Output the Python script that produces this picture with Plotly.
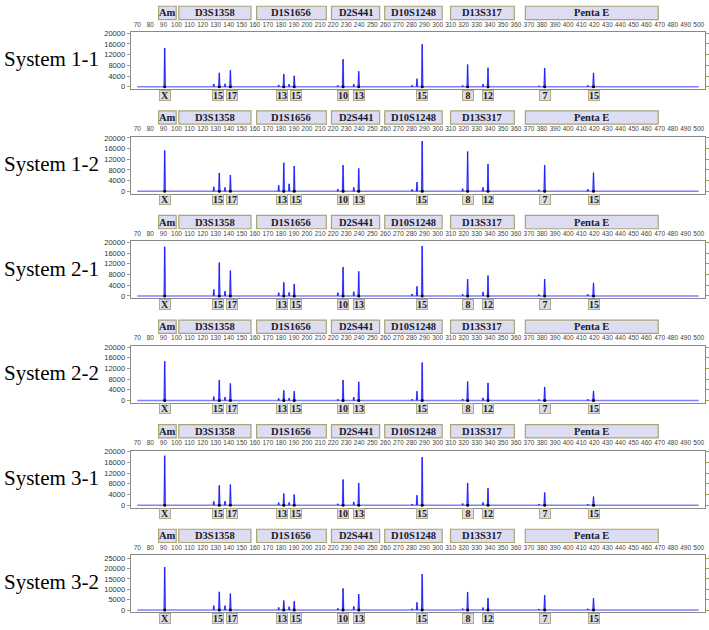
import plotly.graph_objects as go

# ---------------- data ----------------
systems = ["System 1-1", "System 1-2", "System 2-1", "System 2-2", "System 3-1", "System 3-2"]

loci = ["Am", "D3S1358", "D1S1656", "D2S441", "D10S1248", "D13S317", "Penta E"]
locus_start = [86.3, 101.8, 161.4, 218.7, 259.5, 309.9, 367.2]
locus_end = [99.8, 157.1, 214.8, 255.6, 303.5, 358.8, 469.0]

allele_labels = ["X", "15", "17", "13", "15", "10", "13", "15", "8", "12", "7", "15"]
allele_bp = [91.0, 132.8, 141.3, 182.2, 190.2, 227.6, 239.6, 288.2, 323.0, 338.6, 382.0, 419.4]
stutter_bp = [128.6, 137.2, 178.3, 186.3, 223.6, 235.8, 280.5, 284.2, 319.2, 334.8, 377.6, 415.0]

allele_heights = [
    [14500, 5200, 6200, 4800, 4100, 10300, 5800, 15900, 8300, 7100, 7000, 5200],
    [15300, 6900, 6100, 10700, 9500, 9800, 8600, 18800, 14900, 10200, 9800, 7000],
    [18400, 12500, 9500, 5100, 4500, 10800, 9200, 18700, 6300, 7600, 6300, 4900],
    [14700, 7700, 6400, 3800, 3500, 7700, 7000, 14200, 7100, 6600, 5100, 3600],
    [18500, 7400, 7700, 4300, 4000, 9600, 8300, 18000, 8300, 6300, 4700, 3200],
    [20700, 8800, 7900, 4600, 4300, 10400, 7700, 17300, 8700, 5800, 7200, 5800],
]
stutter_heights = [
    [1000, 1100, 700, 1000, 500, 1000, 600, 3000, 500, 1000, 300, 500],
    [1700, 1500, 2300, 2800, 800, 1500, 700, 3500, 1000, 1500, 600, 800],
    [2400, 1800, 1200, 1300, 1200, 1600, 700, 3600, 600, 1500, 500, 600],
    [1500, 1300, 800, 900, 500, 1300, 500, 3500, 600, 1000, 400, 500],
    [1400, 1500, 900, 1000, 500, 1200, 400, 3700, 600, 1000, 400, 400],
    [2100, 2100, 1300, 1600, 800, 1800, 600, 3700, 700, 1200, 500, 600],
]
y_tick_sets = [
    [0, 4000, 8000, 12000, 16000, 20000],
    [0, 4000, 8000, 12000, 16000, 20000],
    [0, 4000, 8000, 12000, 16000, 20000],
    [0, 4000, 8000, 12000, 16000, 20000],
    [0, 4000, 8000, 12000, 16000, 20000],
    [0, 5000, 10000, 15000, 20000, 25000],
]
y_ranges = [[-900, 20400]] * 5 + [[-1000, 26400]]
x_ticks = list(range(70, 510, 10))
x_range = [64.9, 504.8]
scan_range = [70, 500]

# ---------------- layout constants (px) ----------------
W, H = 709, 630
PITCH = 105.6
BOX_L, BOX_R = 131, 707
OLIVE = "#a49e5e"
LINE = "#8a8a8a"


def py(px):
    return 1 - px / H


fig = go.Figure()
shapes = []
annotations = []
layout_axes = {}

px_per_bp = (BOX_R - BOX_L) / (x_range[1] - x_range[0])
HALF = 0.45

for k, name in enumerate(systems):
    off = PITCH * k
    sfx = "" if k == 0 else str(k + 1)
    xa, ya = "x" + sfx, "y" + sfx

    peaks = sorted(
        [(p, h) for p, h in zip(allele_bp, allele_heights[k])]
        + [(p, h) for p, h in zip(stutter_bp, stutter_heights[k])]
    )
    px_, py_ = [], []
    for p, h in peaks:
        px_ += [p - HALF, p, p + HALF, None]
        py_ += [0, h, 0, None]

    # baseline
    fig.add_trace(go.Scatter(x=scan_range, y=[0, 0], mode="lines", xaxis=xa, yaxis=ya,
                             line=dict(color="#7f7fff", width=1.5), hoverinfo="skip",
                             showlegend=False))
    # peaks: light halo + core
    fig.add_trace(go.Scatter(x=px_, y=py_, mode="lines", xaxis=xa, yaxis=ya,
                             line=dict(color="rgba(120,120,255,0.55)", width=1.6),
                             hoverinfo="skip", showlegend=False))
    fig.add_trace(go.Scatter(x=px_, y=py_, mode="lines", xaxis=xa, yaxis=ya,
                             line=dict(color="#1a1aff", width=0.9), hoverinfo="skip",
                             showlegend=False))
    fig.add_trace(go.Scatter(x=allele_bp, y=[0] * len(allele_bp), mode="markers",
                             xaxis=xa, yaxis=ya, cliponaxis=False,
                             marker=dict(color="black", size=3), hoverinfo="skip",
                             showlegend=False))

    box_top, box_bot = 29.5 + off, 87 + off
    layout_axes["xaxis" + sfx] = dict(
        domain=[BOX_L / W, BOX_R / W], anchor=ya, side="top", range=x_range,
        tickmode="array", tickvals=x_ticks, ticktext=[str(t) for t in x_ticks],
        tickangle=0,
        tickfont=dict(size=6.5, color="#444", family="Liberation Sans"),
        ticks="", showline=True, mirror=True, linecolor=LINE, linewidth=1,
        showgrid=False, zeroline=False, fixedrange=True, ticklabelstandoff=2,
    )
    layout_axes["yaxis" + sfx] = dict(
        domain=[py(box_bot), py(box_top)], anchor=xa, range=y_ranges[k],
        tickmode="array", tickvals=y_tick_sets[k],
        ticktext=[str(t) for t in y_tick_sets[k]],
        tickfont=dict(size=7.5, color="#333", family="Liberation Sans"),
        ticks="outside", ticklen=3, tickcolor=OLIVE, tickwidth=1,
        showline=True, mirror="ticks", linecolor=LINE, linewidth=1,
        showgrid=False, zeroline=False, fixedrange=True,
    )

    # locus header boxes
    h_top, h_bot = 3.3 + off, 16.7 + off
    for nm, a, b in zip(loci, locus_start, locus_end):
        shapes.append(dict(type="rect", xref=xa, yref="paper", x0=a, x1=b,
                           y0=py(h_bot), y1=py(h_top), fillcolor="#dcdcf2",
                           line=dict(color="#aba474", width=1.2), layer="above"))
        annotations.append(dict(x=(a + b) / 2, y=py((h_top + h_bot) / 2), xref=xa, yref="paper",
                                text="<b>" + nm + "</b>", showarrow=False,
                                font=dict(family="Liberation Serif", size=10.5, color="#1a1a2a"),
                                xanchor="center", yanchor="middle"))

    # allele boxes with simple overlap avoidance
    centers = [(p - x_range[0]) * px_per_bp for p in allele_bp]
    shifts = [0.0] * len(centers)
    MIN_SEP = 13.4
    for i in range(len(centers) - 1):
        gap = centers[i + 1] - centers[i]
        if gap < MIN_SEP:
            push = (MIN_SEP - gap) / 2
            shifts[i] -= push
            shifts[i + 1] += push
    a_y = py(93 + off)
    for lab, p, s in zip(allele_labels, allele_bp, shifts):
        annotations.append(dict(x=p, y=a_y, xref=xa, yref="paper", xshift=s,
                                text="<b>" + lab + "</b>", showarrow=False,
                                font=dict(family="Liberation Serif", size=10, color="#1a1a1a"),
                                bgcolor="#dcdce6", bordercolor="#b2ab86", borderwidth=1,
                                borderpad=0, width=10, height=9,
                                xanchor="center", yanchor="middle"))

    # system label
    annotations.append(dict(x=2 / W, y=py(57 + off), xref="paper", yref="paper",
                            text=name, showarrow=False, xanchor="left", yanchor="middle",
                            font=dict(family="Liberation Serif", size=21, color="black")))

fig.update_layout(
    width=W, height=H, margin=dict(l=0, r=0, t=0, b=0),
    paper_bgcolor="white", plot_bgcolor="white",
    shapes=shapes, annotations=annotations, showlegend=False,
    **layout_axes,
)

fig.write_html("out.html", config={"displayModeBar": False},
               post_script="document.body.style.margin='0';document.body.style.overflow='hidden';")
